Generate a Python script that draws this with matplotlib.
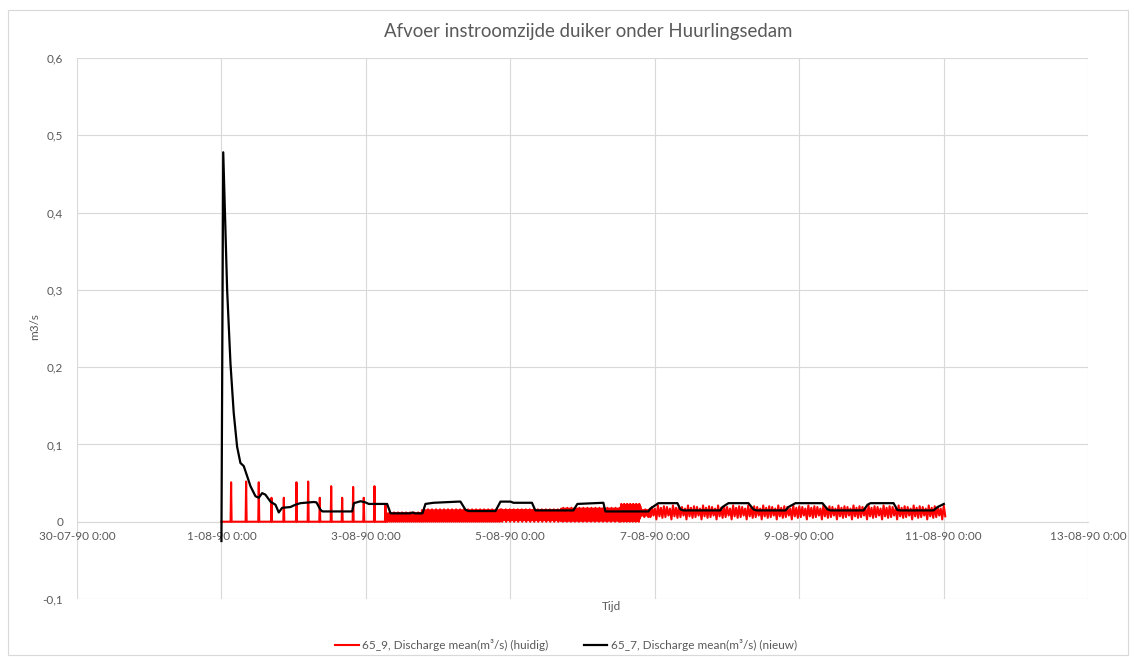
import numpy as np
import matplotlib
matplotlib.use('Agg')
import matplotlib.pyplot as plt
from matplotlib.patches import Rectangle

# time unit: days since 30-07-90 0:00 ; data times given relative to 1-08-90 0:00
T_START = 2.0

# 65_7 (nieuw) - black
black_t = [0.000, 0.025, 0.079, 0.125, 0.170, 0.217, 0.263, 0.309, 0.356, 0.402,
           0.471, 0.517, 0.564, 0.609, 0.679, 0.748, 0.794, 0.841, 0.956, 1.025,
           1.094, 1.279, 1.316, 1.371, 1.399, 1.811, 1.834, 1.927, 1.994, 2.040,
           2.295, 2.341, 2.368, 2.618, 2.646, 2.673, 2.784, 2.825, 2.936, 3.282,
           3.310, 3.379, 3.421, 3.795, 3.864, 4.003, 4.044, 4.300, 4.347, 4.873,
           4.929, 5.289, 5.317, 5.912, 5.940, 6.051, 6.314, 6.356, 6.397, 6.910,
           6.938, 7.021, 7.298, 7.367, 7.408, 7.810, 7.852, 7.949, 8.323, 8.392,
           8.434, 8.891, 8.947, 8.988, 9.307, 9.362, 9.404, 9.861, 9.917, 10.004]
black_v = [-0.025, 0.478, 0.300, 0.205, 0.141, 0.097, 0.076, 0.072, 0.059, 0.046,
           0.033, 0.031, 0.037, 0.035, 0.026, 0.022, 0.012, 0.018, 0.019, 0.022,
           0.024, 0.0255, 0.025, 0.0155, 0.0133, 0.0133, 0.024, 0.0265, 0.025, 0.023,
           0.023, 0.011, 0.0108, 0.0108, 0.012, 0.0108, 0.0108, 0.023, 0.0245, 0.026,
           0.026, 0.0155, 0.0138, 0.0138, 0.026, 0.026, 0.0245, 0.0245, 0.0146, 0.0146,
           0.023, 0.0245, 0.0133, 0.0133, 0.017, 0.024, 0.024, 0.016, 0.0146, 0.0146,
           0.019, 0.024, 0.024, 0.016, 0.0146, 0.0146, 0.019, 0.024, 0.024, 0.016,
           0.0146, 0.0146, 0.022, 0.024, 0.024, 0.015, 0.0146, 0.0146, 0.019, 0.023]

# 65_9 (huidig) - red : isolated pump spikes
red_spike_t = [0.134, 0.342, 0.517, 0.693, 0.864, 1.039, 1.201, 1.362, 1.520,
               1.672, 1.824, 1.971, 2.119, 2.271]
red_spike_v = [0.051, 0.052, 0.051, 0.031, 0.031, 0.051, 0.052, 0.031, 0.046,
               0.031, 0.045, 0.031, 0.046, 0.022]
# red : oscillating periods (start, end, repeating value pattern, sample step in minutes)
red_band_start = [2.300, 2.770, 3.860, 4.700, 5.530, 5.800, 5.940]
red_band_end   = [2.770, 3.860, 4.700, 5.530, 5.800, 5.940, 10.030]
red_band_pattern = [
    [0.000, 0.011, 0.004, 0.010, 0.000, 0.012, 0.005, 0.011],
    [0.000, 0.015, 0.005, 0.013, 0.000, 0.016, 0.007, 0.014],
    [0.002, 0.015, 0.007, 0.016, 0.000, 0.014, 0.006, 0.015],
    [0.001, 0.017, 0.006, 0.016, 0.000, 0.018, 0.007, 0.016],
    [0.000, 0.023, 0.004, 0.020, 0.001, 0.022],
    [0.006, 0.016, 0.008, 0.015],
    [0.006, 0.019, 0.008, 0.017, 0.003, 0.021, 0.007, 0.018, 0.005, 0.020],
]
red_band_step = [10, 10, 10, 10, 10, 20, 30]

x_ticks = [0, 2, 4, 6, 8, 10, 12, 14]
x_tick_labels = ['30-07-90 0:00', '1-08-90 0:00', '3-08-90 0:00', '5-08-90 0:00',
                 '7-08-90 0:00', '9-08-90 0:00', '11-08-90 0:00', '13-08-90 0:00']
y_ticks = [-0.1, 0.0, 0.1, 0.2, 0.3, 0.4, 0.5, 0.6]
y_tick_labels = ['-0,1', '0', '0,1', '0,2', '0,3', '0,4', '0,5', '0,6']

# ---- build red series from the read values
rt = [0.0]
rv = [0.0]
for t, v in zip(red_spike_t, red_spike_v):
    rt += [t - 0.007, t, t + 0.007]
    rv += [0.0, v, 0.0]
for s, e, pat, st in zip(red_band_start, red_band_end, red_band_pattern, red_band_step):
    n = int(round((e - s) * 1440 / st))
    for i in range(n + 1):
        rt.append(s + i * st / 1440.0)
        rv.append(pat[i % len(pat)])
rt = np.array(rt) + T_START
bt = np.array(black_t) + T_START

plt.rcParams['font.family'] = ['Lato', 'DejaVu Sans']
TXT = '#595959'
GRID = '#d9d9d9'

fig = plt.figure(figsize=(11.34, 6.6), dpi=100)
ax = fig.add_axes([77/1134, 1-599/660, (1088-77)/1134, (599-58)/660])

ax.plot(rt, rv, color='#ff0000', lw=1.5, label='65_9, Discharge mean(m³/s) (huidig)', zorder=3)
ax.plot(bt, black_v, color='black', lw=1.6, label='65_7, Discharge mean(m³/s) (nieuw)', zorder=4)

ax.set_xlim(0, 14)
ax.set_ylim(-0.1, 0.6)
ax.set_xticks(x_ticks)
ax.set_xticklabels(x_tick_labels)
ax.set_yticks(y_ticks)
ax.set_yticklabels(y_tick_labels)
ax.tick_params(axis='both', length=0, labelsize=8.5, colors=TXT)
ax.tick_params(axis='y', pad=10)
ax.tick_params(axis='x', pad=7)
ax.grid(True, color=GRID, lw=0.8, zorder=0)
for s in ['top', 'right', 'left']:
    ax.spines[s].set_visible(False)
ax.spines['bottom'].set_position(('data', 0))
ax.spines['bottom'].set_color(GRID)
ax.spines['bottom'].set_linewidth(0.8)
ax.set_axisbelow(True)

fig.text(588/1134, 1-31/660, 'Afvoer instroomzijde duiker onder Huurlingsedam',
         ha='center', va='center', fontsize=13.4, color=TXT)
fig.text(35/1134, 1-327/660, 'm3/s', rotation=90, ha='center', va='center',
         fontsize=8.5, color=TXT)
fig.text(611/1134, 1-607/660, 'Tijd', ha='center', va='center', fontsize=8.5, color=TXT)

leg = fig.legend(loc='center', bbox_to_anchor=(566/1134, 1-645/660), ncol=2,
                 frameon=False, fontsize=8.5, handlelength=2.0, columnspacing=3.0,
                 handletextpad=0.3)
for t in leg.get_texts():
    t.set_color(TXT)

fig.add_artist(Rectangle((8/1134, 5/660), 1120/1134, 645/660, transform=fig.transFigure,
                         fill=False, edgecolor=GRID, lw=0.8))

fig.savefig('out.png', dpi=100, facecolor='white')
